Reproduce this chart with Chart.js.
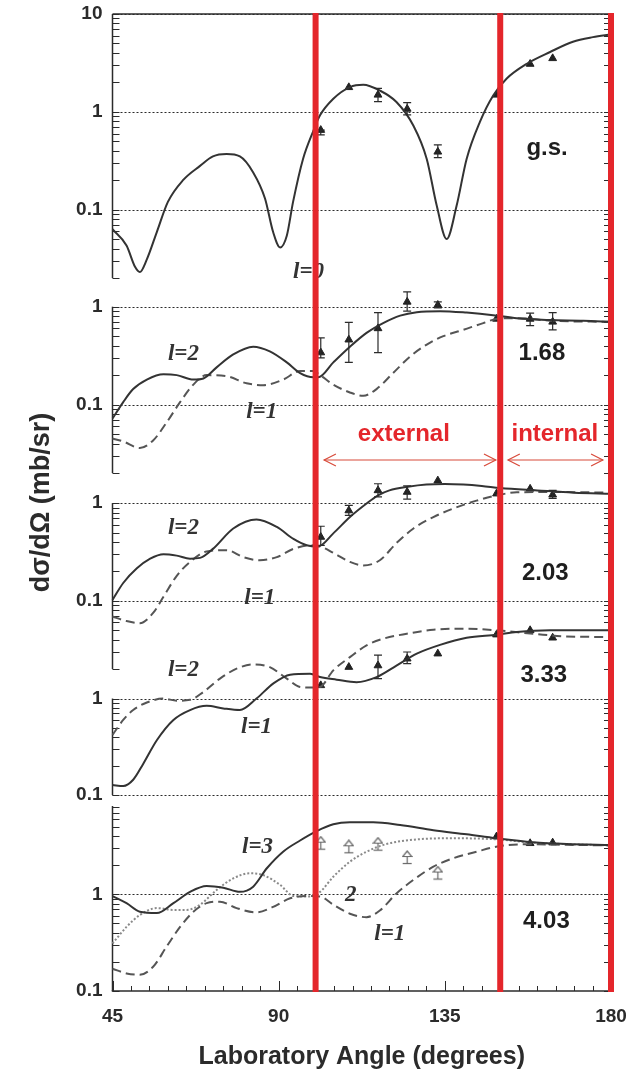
<!DOCTYPE html>
<html>
<head>
<meta charset="utf-8">
<script src="https://cdn.jsdelivr.net/npm/chart.js@4.4.1/dist/chart.umd.min.js"></script>
<style>
    html, body { margin: 0; padding: 0; background: #fff; }
    #wrap { position: relative; width: 632px; height: 1073px; overflow: hidden; }
    #wrap canvas { position: absolute; left: 0; }
</style>
</head>
<body>
<div id="wrap">
    <canvas id="p1"></canvas>
    <canvas id="p2"></canvas>
    <canvas id="p3"></canvas>
    <canvas id="p4"></canvas>
    <canvas id="p5"></canvas>
    <canvas id="overlay"></canvas>
</div>
<script>
// ── Data ──────────────────────────────────────────────────────────
const X_MIN = 45, X_MAX = 180;
const xMajorTicks = [45, 90, 135, 180];
const xMinorStep  = 5;

// measured angles (same for every level)
const expAngle = [101.4, 109.0, 116.9, 124.8, 133.1, 149.0, 158.1, 164.2];

// g.s.  (l=0)
const gsAngle = [45, 48.8, 51.1, 52.4, 54.3, 57.0, 60.0, 64.1, 68.7, 72.2, 75.9, 79.5, 83.1, 86.3, 88.5, 90.4, 92.2, 93.9, 96.6, 99.4,
                 101.2, 104.8, 109.3, 112.9, 117.4, 121.9, 126.5, 130.1, 132.8, 135.5, 138.2, 140.9, 144.5, 148.1, 151.7, 157.2, 163.5, 169.7, 175.1, 180];
const gsL0    = [0.063, 0.043, 0.026, 0.023, 0.031, 0.059, 0.12, 0.2, 0.28, 0.35, 0.37, 0.35, 0.24, 0.13, 0.059, 0.041, 0.054, 0.12, 0.33, 0.64,
                 0.92, 1.36, 1.79, 1.89, 1.65, 1.26, 0.72, 0.33, 0.11, 0.05, 0.11, 0.33, 0.79, 1.47, 2.18, 3.1, 4.09, 5.2, 5.8, 6.2];
const gsExp   = [0.65, 1.78, 1.49, 1.07, 0.39, 1.49, 3.08, 3.52];
const gsErrLo = [0.58, 1.78, 1.27, 0.93, 0.34, 1.49, 3.08, 3.52];
const gsErrHi = [0.65, 1.78, 1.74, 1.24, 0.46, 1.49, 3.08, 3.52];

// 1.68 MeV
const e168L2Angle = [45, 47.9, 50.6, 54.3, 58.8, 62.4, 66.9, 69.6, 73.2, 77.7, 83.1, 87.6, 92.2, 95.8, 99.4, 100.7, 104.8, 109.3, 113.8, 118.3,
                     122.9, 127.4, 133.7, 140.9, 148.1, 154.5, 163.5, 172.5, 180];
const e168L2 = [0.072, 0.106, 0.144, 0.18, 0.204, 0.2, 0.18, 0.185, 0.24, 0.325, 0.39, 0.35, 0.27, 0.21, 0.19, 0.19, 0.27, 0.39, 0.54, 0.68,
                0.81, 0.88, 0.9, 0.87, 0.82, 0.76, 0.73, 0.72, 0.7];
const e168L1Angle = [45, 47.9, 52.4, 56.0, 59.7, 63.3, 66.9, 70.5, 75.9, 81.3, 85.8, 91.2, 95.8, 99.4, 101.2, 104.8, 109.3, 112.9, 116.5, 121.0,
                     125.6, 130.1, 134.6, 140.0, 145.4, 149.9, 155.3, 163.5, 180];
const e168L1 = [0.045, 0.042, 0.036, 0.043, 0.066, 0.106, 0.16, 0.2, 0.195, 0.165, 0.158, 0.18, 0.22, 0.22, 0.2, 0.16, 0.133, 0.123, 0.144, 0.21,
                0.31, 0.41, 0.5, 0.58, 0.68, 0.76, 0.76, 0.72, 0.7];
const e168Exp   = [0.34, 0.46, 0.6, 1.12, 1.04, 0.75, 0.75, 0.7];
const e168ErrLo = [0.3, 0.27, 0.34, 0.9, 0.97, 0.75, 0.64, 0.58];
const e168ErrHi = [0.48, 0.69, 0.87, 1.42, 1.12, 0.75, 0.86, 0.87];

// 2.03 MeV
const e203L2Angle = [45, 47.9, 51.6, 55.2, 58.8, 62.4, 66.0, 68.7, 72.2, 77.7, 84.0, 89.5, 94.0, 97.6, 100.7, 104.8, 109.3, 113.8, 116.9, 120,
                     125, 130, 135, 140, 145, 150, 160, 170, 180];
const e203L2 = [0.102, 0.152, 0.215, 0.27, 0.30, 0.29, 0.27, 0.275, 0.34, 0.55, 0.68, 0.57, 0.43, 0.37, 0.36, 0.49, 0.72, 0.99, 1.2, 1.35,
                1.47, 1.55, 1.57, 1.55, 1.5, 1.43, 1.35, 1.28, 1.25];
const e203L1Angle = [45, 48.8, 52.4, 56.0, 58.8, 62.4, 66.0, 70.5, 75.9, 80.4, 84.9, 89.5, 94.0, 98.5, 101.2, 104.8, 109.3, 112.9, 117.4, 121.9,
                     126.5, 131.9, 137.3, 143.6, 149.0, 154.5, 163.5, 180];
const e203L1 = [0.069, 0.062, 0.059, 0.075, 0.11, 0.18, 0.25, 0.32, 0.33, 0.28, 0.26, 0.28, 0.34, 0.37, 0.36, 0.31, 0.25, 0.23, 0.26, 0.39,
                0.55, 0.72, 0.88, 1.06, 1.2, 1.29, 1.3, 1.28];
const e203Exp   = [0.45, 0.84, 1.35, 1.3, 1.7, 1.25, 1.4, 1.22];
const e203ErrLo = [0.37, 0.75, 1.16, 1.1, 1.7, 1.25, 1.4, 1.12];
const e203ErrHi = [0.58, 0.95, 1.58, 1.5, 1.7, 1.25, 1.4, 1.35];

// 3.33 MeV
const e333L1Angle = [45, 47.9, 50.6, 53.3, 57.0, 61.5, 66.0, 70.5, 75.0, 79.5, 84.0, 88.5, 93.1, 98.5, 101.2, 105.7, 111.1, 116.5, 121.9, 127.4,
                     133.7, 140.9, 149.0, 154.5, 163.5, 180];
const e333L1 = [0.127, 0.124, 0.144, 0.21, 0.37, 0.6, 0.76, 0.84, 0.79, 0.76, 1.0, 1.43, 1.77, 1.81, 1.67, 1.57, 1.48, 1.67, 2.2, 2.92,
                3.6, 4.27, 4.6, 4.9, 5.1, 5.1];
const e333L2Angle = [45, 47.9, 50.6, 54.3, 58.8, 62.4, 66.0, 69.6, 74.1, 78.6, 83.1, 87.6, 92.2, 95.8, 99.4, 101.2, 104.8, 109.3, 113.8, 118.3,
                     124.7, 131.9, 140.9, 149.0, 158.9, 168.0, 180];
const e333L2 = [0.42, 0.6, 0.76, 0.91, 1.0, 0.95, 0.97, 1.17, 1.61, 2.04, 2.26, 2.12, 1.61, 1.32, 1.3, 1.32, 1.96, 2.69, 3.56, 4.17,
                4.7, 5.17, 5.3, 5.1, 4.7, 4.4, 4.35];
const e333Exp   = [1.37, 2.12, 2.2, 2.59, 2.92, 4.6, 5.1, 4.27];
const e333ErrLo = [1.37, 2.12, 1.61, 2.3, 2.92, 4.6, 5.1, 4.27];
const e333ErrHi = [1.37, 2.12, 2.82, 3.04, 2.92, 4.6, 5.1, 4.27];

// 4.03 MeV
const e403L3Angle = [45, 48.8, 52.4, 57.0, 61.5, 66.0, 70.5, 75.0, 79.5, 83.1, 86.8, 91.2, 95.8, 100.3, 104.8, 109.3, 115.6, 122.9, 131.9, 140.9,
                     149.0, 158.9, 168.0, 180];
const e403L3 = [0.96, 0.81, 0.66, 0.64, 0.81, 1.06, 1.22, 1.17, 1.06, 1.2, 1.86, 2.76, 3.6, 4.5, 5.3, 5.55, 5.55, 5.2, 4.6, 4.17,
                3.79, 3.45, 3.31, 3.23];
const e403L1Angle = [45, 48.8, 52.4, 56.0, 59.7, 63.3, 66.9, 70.5, 74.1, 78.6, 84.0, 88.5, 93.1, 98.5, 101.2, 104.8, 109.3, 113.8, 117.4, 121.9,
                     126.5, 131.9, 137.3, 143.6, 149.9, 157.2, 168.0, 180];
const e403L1 = [0.17, 0.152, 0.147, 0.178, 0.29, 0.46, 0.66, 0.81, 0.84, 0.72, 0.65, 0.74, 0.91, 0.96, 0.95, 0.78, 0.63, 0.58, 0.68, 1.02,
                1.41, 1.93, 2.36, 2.76, 3.16, 3.29, 3.25, 3.2];
const e403L2Angle = [45, 48.8, 52.4, 57.0, 61.5, 65.1, 68.7, 73.2, 77.7, 82.2, 85.8, 90.4, 94.0, 97.6, 101.2, 104.8, 109.3, 113.8, 119.2, 125.6,
                     133.7, 140.9, 149.0, 158.9, 180];
const e403L2 = [0.31, 0.46, 0.61, 0.72, 0.69, 0.69, 0.78, 1.11, 1.46, 1.65, 1.58, 1.25, 0.96, 0.95, 1.06, 1.52, 2.17, 2.76, 3.31, 3.64,
                3.79, 3.79, 3.7, 3.42, 3.2];
const e403LimitAngle = [101.4, 109.0, 116.9, 124.8, 133.1];
const e403Limit      = [3.38, 3.1, 3.3, 2.4, 1.66];
const e403ExpAngle   = [149.0, 158.1, 164.2];
const e403Exp        = [3.95, 3.37, 3.42];

// region boundaries (red lines) and names
const regionBounds = [100, 150, 180];
const regionNames  = ['external', 'internal'];
const levelNames   = ['g.s.', '1.68', '2.03', '3.33', '4.03'];

// ── Styles ────────────────────────────────────────────────────────
const INK     = '#2b2b2b';
const RED     = '#e4262b';
const SANS    = '"Liberation Sans", Arial, sans-serif';
const SERIF   = '"Liberation Serif", "Times New Roman", serif';
const SOLID   = { color: '#333', dash: [] };
const DASHED  = { color: '#555', dash: [9, 5] };
const DOTTED  = { color: '#8a8a8a', dash: [2, 2] };

// ── Helpers ───────────────────────────────────────────────────────
const isDecade = v => Math.abs(Math.log10(v) - Math.round(Math.log10(v))) < 1e-6;
const fmtDecade = v => v >= 1 ? String(Math.round(v)) : String(+v.toPrecision(1));
const pts = (xs, ys) => xs.map((x, i) => ({ x, y: ys[i] }));

function logTickValues(min, max) {
    const out = [];
    for (let e = Math.floor(Math.log10(min)); e <= Math.ceil(Math.log10(max)); e++) {
        for (let m = 1; m <= 9; m++) {
            const v = +(m * Math.pow(10, e)).toPrecision(3);
            if (v >= min * 0.999 && v <= max * 1.001) out.push(v);
        }
    }
    return out;
}

function curve(xs, ys, style) {
    return {
        data: pts(xs, ys), showLine: true, pointRadius: 0,
        borderColor: style.color, borderDash: style.dash, borderWidth: 2,
        cubicInterpolationMode: 'monotone', capBezierPoints: false, clip: false
    };
}

function measured(xs, ys, lo, hi) {
    return {
        data: pts(xs, ys), showLine: false, pointStyle: 'triangle', pointRadius: 4.5,
        backgroundColor: '#222', borderColor: '#222', borderWidth: 1,
        errLo: lo, errHi: hi, clip: false
    };
}

// open "lower limit" arrow used for the 4.03 level
function limitSymbol() {
    const c = document.createElement('canvas');
    c.width = 11; c.height = 15;
    const g = c.getContext('2d');
    g.strokeStyle = '#666'; g.lineWidth = 1.2;
    g.beginPath(); g.moveTo(5.5, 1); g.lineTo(10, 6.5); g.lineTo(1, 6.5); g.closePath(); g.stroke();
    g.beginPath(); g.moveTo(5.5, 6.5); g.lineTo(5.5, 13); g.stroke();
    g.beginPath(); g.moveTo(1, 13.5); g.lineTo(10, 13.5); g.stroke();
    return c;
}

// ── Plugins ───────────────────────────────────────────────────────
// the frame (axis lines, ticks, dotted decades) covers only the panel's
// own range; the scale itself reaches higher so big values stay visible
const panelFrame = {
    id: 'panelFrame',
    beforeDatasetsDraw(chart, args, opts) {
        const { ctx, chartArea: a, scales: { x, y } } = chart;
        const line = (x1, y1, x2, y2) => { ctx.beginPath(); ctx.moveTo(x1, y1); ctx.lineTo(x2, y2); ctx.stroke(); };
        const top = y.getPixelForValue(opts.max), bottom = y.getPixelForValue(opts.min);
        ctx.save();
        ctx.strokeStyle = INK;
        ctx.lineWidth = 1;

        // dotted decade lines
        ctx.setLineDash([2, 2]);
        y.ticks.forEach(t => {
            if (!isDecade(t.value)) return;
            const py = Math.round(y.getPixelForValue(t.value)) + 0.5;
            if (opts.bottomAxis && Math.abs(py - bottom) < 2) return;
            line(a.left, py, a.right, py);
        });
        ctx.setLineDash([]);

        // inward tick marks on both sides
        y.ticks.forEach(t => {
            const py = Math.round(y.getPixelForValue(t.value)) + 0.5;
            line(a.left, py, a.left + 7, py);
            line(a.right - 7, py, a.right, py);
        });

        ctx.lineWidth = 1.5;
        line(a.left, top, a.left, bottom);
        line(a.right, top, a.right, bottom);
        if (opts.topBorder) line(a.left, top, a.right, top);

        if (opts.bottomAxis) {
            line(a.left - 0.75, bottom, a.right, bottom);
            ctx.lineWidth = 1;
            x.ticks.forEach(t => {
                const px = Math.round(x.getPixelForValue(t.value)) + 0.5;
                const len = xMajorTicks.includes(t.value) ? 10 : 5;
                line(px, bottom, px, bottom - len);
            });
        }
        ctx.restore();
    },
    afterDatasetsDraw(chart) {
        const { ctx, scales: { x, y } } = chart;
        ctx.save();
        ctx.strokeStyle = INK;
        ctx.lineWidth = 1.2;
        chart.data.datasets.forEach(ds => {
            if (!ds.errLo) return;
            ds.data.forEach((p, i) => {
                const lo = ds.errLo[i], hi = ds.errHi[i];
                if (lo === hi) return;
                const px = x.getPixelForValue(p.x);
                const y1 = y.getPixelForValue(lo), y2 = y.getPixelForValue(hi);
                ctx.beginPath();
                ctx.moveTo(px, y1); ctx.lineTo(px, y2);
                ctx.moveTo(px - 4, y1); ctx.lineTo(px + 4, y1);
                ctx.moveTo(px - 4, y2); ctx.lineTo(px + 4, y2);
                ctx.stroke();
            });
        });
        ctx.restore();
    }
};

const overlayText = {
    id: 'overlayText',
    beforeDatasetsDraw(chart, args, opts) {
        const { ctx, scales: { x, y } } = chart;
        ctx.save();
        ctx.textAlign = 'center';
        ctx.textBaseline = 'middle';
        opts.marks.forEach(m => {
            ctx.font = m.font;
            ctx.fillStyle = m.color;
            ctx.fillText(m.text, x.getPixelForValue(m.x), y.getPixelForValue(m.y));
        });
        ctx.restore();
    }
};

// ── Panels ────────────────────────────────────────────────────────
const tickFont = { family: SANS, size: 19, weight: 'bold' };

// page pixels: canvas top/height, chart area top, frame top/bottom
const panels = [
    { id: 'p1', top: 0,   height: 290, areaTop: 14,  frameTop: 14,    frameBottom: 278, min: 0.02, max: 10,
      frame: { topBorder: true },
      datasets: [curve(gsAngle, gsL0, SOLID), measured(expAngle, gsExp, gsErrLo, gsErrHi)] },
    { id: 'p2', top: 280, height: 205, areaTop: 292, frameTop: 306.7, frameBottom: 473, min: 0.02, max: 1,
      frame: {},
      datasets: [curve(e168L2Angle, e168L2, SOLID), curve(e168L1Angle, e168L1, DASHED),
                 measured(expAngle, e168Exp, e168ErrLo, e168ErrHi)] },
    { id: 'p3', top: 470, height: 211, areaTop: 475, frameTop: 502.7, frameBottom: 669, min: 0.02, max: 1,
      frame: {},
      datasets: [curve(e203L2Angle, e203L2, SOLID), curve(e203L1Angle, e203L1, DASHED),
                 measured(expAngle, e203Exp, e203ErrLo, e203ErrHi)] },
    { id: 'p4', top: 600, height: 207, areaTop: 605, frameTop: 698.3, frameBottom: 795, min: 0.1, max: 1,
      frame: {},
      datasets: [curve(e333L1Angle, e333L1, SOLID), curve(e333L2Angle, e333L2, DASHED),
                 measured(expAngle, e333Exp, e333ErrLo, e333ErrHi)] },
    { id: 'p5', top: 790, height: 283, areaTop: 806, frameTop: 806,   frameBottom: 991, min: 0.1, max: 8.19,
      frame: { bottomAxis: true },
      datasets: [curve(e403L3Angle, e403L3, SOLID), curve(e403L1Angle, e403L1, DASHED), curve(e403L2Angle, e403L2, DOTTED),
                 { data: pts(e403LimitAngle, e403Limit), showLine: false, pointStyle: limitSymbol(), pointRadius: 6, clip: false },
                 measured(e403ExpAngle, e403Exp, e403Exp, e403Exp)] }
];

function makePanel(p, isBottom) {
    const canvas = document.getElementById(p.id);
    canvas.width = 632;
    canvas.height = p.height;
    canvas.style.top = p.top + 'px';

    const decadePx = (p.frameBottom - p.frameTop) / Math.log10(p.max / p.min);
    const scaleMax = p.max * Math.pow(10, (p.frameTop - p.areaTop) / decadePx);
    const padBottom = isBottom ? 0 : p.top + p.height - p.frameBottom;

    const xScale = isBottom ? {
        type: 'linear', min: X_MIN, max: X_MAX, position: 'bottom',
        afterBuildTicks: s => {
            const t = [];
            for (let v = X_MIN; v <= X_MAX; v += xMinorStep) t.push({ value: v });
            s.ticks = t;
        },
        afterFit: s => {
            s.height = p.top + p.height - p.frameBottom;
            s.paddingLeft = 0; s.paddingRight = 0;
        },
        grid: { display: false, drawTicks: false },
        border: { display: false },
        ticks: {
            autoSkip: false, maxRotation: 0, padding: 14, color: INK, font: tickFont,
            callback: v => xMajorTicks.includes(v) ? String(v) : ''
        },
        title: {
            display: true, text: 'Laboratory Angle (degrees)', color: INK,
            font: { family: SANS, size: 25, weight: 'bold' }, padding: { top: 0, bottom: 1 }
        }
    } : { type: 'linear', min: X_MIN, max: X_MAX, display: false };

    return new Chart(canvas, {
        type: 'scatter',
        data: { datasets: p.datasets },
        options: {
            responsive: false,
            animation: false,
            events: [],
            layout: { padding: { top: p.areaTop - p.top, bottom: padBottom, left: 0, right: 21 } },
            plugins: {
                legend: { display: false }, tooltip: { enabled: false },
                panelFrame: Object.assign({ min: p.min, max: p.max }, p.frame)
            },
            scales: {
                x: xScale,
                y: {
                    type: 'logarithmic', min: p.min, max: scaleMax, position: 'left',
                    afterBuildTicks: s => { s.ticks = logTickValues(p.min, p.max).map(v => ({ value: v })); },
                    afterFit: s => { s.width = 112.5; s.paddingTop = 0; s.paddingBottom = 0; },
                    grid: { display: false, drawTicks: false },
                    border: { display: false },
                    ticks: {
                        autoSkip: false, padding: 10, color: INK, font: tickFont,
                        callback: v => isDecade(v) ? fmtDecade(v) : ''
                    }
                }
            }
        },
        plugins: [panelFrame]
    });
}

panels.forEach((p, i) => makePanel(p, i === panels.length - 1));

// ── Overlay: region lines, arrows, labels ─────────────────────────
const levelFont  = `bold 24px ${SANS}`;
const lFont      = `bold italic 23px ${SERIF}`;
const levelPos   = [[162.7, 148], [161.3, 353], [162.2, 573], [161.8, 675], [162.5, 921]];
const regionPos  = [[123.9, 434], [164.8, 434]];
const waveLabels = [
    ['l=0', 98.1, 272], ['l=2', 64.2, 354], ['l=1', 85.4, 412],
    ['l=2', 64.2, 528], ['l=1', 84.9, 598],
    ['l=2', 64.2, 670], ['l=1', 84.0, 727],
    ['l=3', 84.3, 847], ['2', 109.5, 895], ['l=1', 120.1, 934]
];

const marks = [
    ...levelNames.map((t, i) => ({ text: t, x: levelPos[i][0], y: levelPos[i][1], font: levelFont, color: '#1e1e1e' })),
    ...regionNames.map((t, i) => ({ text: t, x: regionPos[i][0], y: regionPos[i][1], font: levelFont, color: RED })),
    ...waveLabels.map(([t, x, y]) => ({ text: t, x, y, font: lFont, color: '#333' }))
];

const ARROW_Y = 460, HEAD_LEN = 3.2, HEAD_HALF = 6;
const arrowSpans = [[102.3, 148.8], [152.1, 177.8]];

const overlaySets = regionBounds.map(a => ({
    data: [{ x: a, y: 13 }, { x: a, y: 992 }], showLine: true, pointRadius: 0,
    borderColor: RED, borderWidth: 6, clip: false
}));
arrowSpans.forEach(([x0, x1]) => {
    [
        [{ x: x0, y: ARROW_Y }, { x: x1, y: ARROW_Y }],
        [{ x: x0 + HEAD_LEN, y: ARROW_Y - HEAD_HALF }, { x: x0, y: ARROW_Y }, { x: x0 + HEAD_LEN, y: ARROW_Y + HEAD_HALF }],
        [{ x: x1 - HEAD_LEN, y: ARROW_Y - HEAD_HALF }, { x: x1, y: ARROW_Y }, { x: x1 - HEAD_LEN, y: ARROW_Y + HEAD_HALF }]
    ].forEach(seg => overlaySets.push({
        data: seg, showLine: true, pointRadius: 0, borderColor: '#d84a3a', borderWidth: 1.2, clip: false
    }));
});

const ov = document.getElementById('overlay');
ov.width = 632; ov.height = 1073; ov.style.top = '0px';

new Chart(ov, {
    type: 'scatter',
    data: { datasets: overlaySets },
    options: {
        responsive: false,
        animation: false,
        events: [],
        layout: { padding: { top: 13, bottom: 81, left: 0, right: 21 } },
        plugins: { legend: { display: false }, tooltip: { enabled: false }, overlayText: { marks } },
        scales: {
            x: { type: 'linear', min: X_MIN, max: X_MAX, display: false },
            y: {
                type: 'linear', min: 13, max: 992, reverse: true,
                afterFit: s => { s.width = 112.5; s.paddingTop = 0; s.paddingBottom = 0; },
                grid: { display: false, drawTicks: false },
                border: { display: false },
                ticks: { display: false },
                title: {
                    display: true, text: 'dσ/dΩ (mb/sr)', color: INK,
                    font: { family: SANS, size: 27, weight: 'bold' }, padding: { top: 25, bottom: 0 }
                }
            }
        }
    },
    plugins: [overlayText]
});
</script>
</body>
</html>
